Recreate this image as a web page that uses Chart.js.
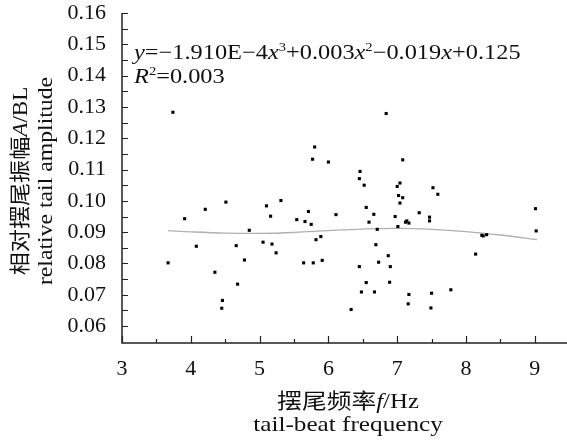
<!DOCTYPE html>
<html>
<head>
<meta charset="utf-8">
<script src="https://cdn.jsdelivr.net/npm/chart.js@4/dist/chart.umd.min.js"></script>
<style>
  html, body { margin: 0; padding: 0; background: #fff; }
  #c { display: block; }
</style>
</head>
<body>
<canvas id="c" width="567" height="443"></canvas>
<script>
// data
var freqX = [3.74, 3.91, 3.67, 4.08, 4.21, 4.35, 4.46, 4.45, 4.51, 4.66, 4.68, 4.78, 4.85, 5.05, 5.10, 5.16, 5.18, 5.24, 5.31, 5.54,
             5.64, 5.66, 5.71, 5.75, 5.78, 5.80, 5.77, 5.82, 5.89, 5.91, 6.00, 6.11, 6.33, 6.46, 6.45, 6.52, 6.55, 6.66, 6.59, 6.71,
             6.69, 6.87, 6.73, 6.45, 6.90, 6.55, 6.89, 6.48, 6.67, 6.84, 7.08, 7.04, 7.00, 7.02, 7.08, 7.04, 6.97, 7.01, 7.12, 7.14,
             7.17, 7.32, 7.47, 7.47, 7.52, 7.59, 7.17, 7.16, 7.50, 7.49, 7.78, 8.14, 8.23, 8.25, 8.30, 9.01, 9.02];
var ampY  = [0.1283, 0.0943, 0.0802, 0.0855, 0.0973, 0.0772, 0.0682, 0.0657, 0.0996, 0.0857, 0.0734, 0.0811, 0.0906, 0.0868, 0.0984, 0.0951, 0.0862, 0.0834, 0.1001, 0.0940,
             0.0802, 0.0934, 0.0966, 0.0925, 0.0802, 0.1172, 0.1133, 0.0876, 0.0886, 0.0810, 0.1124, 0.0956, 0.0653, 0.1094, 0.1071, 0.1050, 0.0979, 0.0957, 0.0932, 0.0909,
             0.0860, 0.0825, 0.0804, 0.0790, 0.0790, 0.0739, 0.0740, 0.0709, 0.0709, 0.1279, 0.1131, 0.1057, 0.1046, 0.1017, 0.1010, 0.0993, 0.0950, 0.0918, 0.0932, 0.0936,
             0.0929, 0.0962, 0.0948, 0.0936, 0.1042, 0.1021, 0.0701, 0.0671, 0.0705, 0.0658, 0.0716, 0.0830, 0.0890, 0.0888, 0.0892, 0.0975, 0.0904];

// fitted curve
var fitX = [3.67, 4.0, 4.5, 5.0, 5.5, 6.0, 6.5, 7.0, 7.5, 8.0, 8.5, 9.03];
var fitY = [0.0905, 0.0901, 0.0897, 0.0896, 0.0899, 0.0905, 0.0910, 0.0912, 0.0909, 0.0902, 0.0891, 0.0876];

var xTicks = [3, 4, 5, 6, 7, 8, 9];
var xMinorTicks = [3.5, 4.5, 5.5, 6.5, 7.5, 8.5];
var yTicks = [0.06, 0.07, 0.08, 0.09, 0.10, 0.11, 0.12, 0.13, 0.14, 0.15, 0.16];
var yMinorTicks = [0.065, 0.075, 0.085, 0.095, 0.105, 0.115, 0.125, 0.135, 0.145, 0.155];

const SERIF = '"Liberation Serif", "Times New Roman", serif';
const CJK = '"Liberation Serif", "Noto Sans CJK SC", serif';

// draw a row of text pieces, some italic / superscript; sx stretches the row sideways
function drawRuns(ctx, runs, x, y, size, align, sx) {
    let total = 0;
    runs.forEach(r => {
        ctx.font = (r.it ? 'italic ' : '') + (r.sup ? size * 0.6 : size) + 'px ' + CJK;
        r.w = ctx.measureText(r.t).width;
        total += r.w;
    });
    ctx.save();
    ctx.translate(x, y);
    ctx.scale(sx, 1);
    let cx = align === 'center' ? -total / 2 : 0;
    runs.forEach(r => {
        ctx.font = (r.it ? 'italic ' : '') + (r.sup ? size * 0.6 : size) + 'px ' + CJK;
        ctx.fillText(r.t, cx, r.sup ? -size * 0.38 : 0);
        cx += r.w;
    });
    ctx.restore();
}

const axesPlugin = {
    id: 'axesPlugin',
    afterDraw(chart) {
        const ctx = chart.ctx;
        const xs = chart.scales.x, ys = chart.scales.y;
        const area = chart.chartArea;
        ctx.save();
        ctx.strokeStyle = '#222';
        ctx.lineWidth = 1.5;
        ctx.beginPath();
        ctx.moveTo(area.left, ys.getPixelForValue(0.16));
        ctx.lineTo(area.left, area.bottom);
        ctx.lineTo(chart.width, area.bottom);
        ctx.stroke();

        ctx.lineWidth = 1.2;
        ctx.beginPath();
        yTicks.concat(yMinorTicks).forEach(v => {
            const py = Math.round(ys.getPixelForValue(v)) + 0.5;
            ctx.moveTo(area.left, py);
            ctx.lineTo(area.left + 6, py);
        });
        xTicks.forEach(v => {
            const px = Math.round(xs.getPixelForValue(v)) + 0.5;
            ctx.moveTo(px, area.bottom);
            ctx.lineTo(px, area.bottom - 7);
        });
        xMinorTicks.forEach(v => {
            const px = Math.round(xs.getPixelForValue(v)) + 0.5;
            ctx.moveTo(px, area.bottom);
            ctx.lineTo(px, area.bottom - 4);
        });
        ctx.stroke();

        ctx.fillStyle = '#111';
        ctx.textBaseline = 'alphabetic';
        // regression equation
        drawRuns(ctx, [
            {t: 'y', it: true}, {t: '=\u22121.910E\u22124'}, {t: 'x', it: true}, {t: '3', sup: true},
            {t: '+0.003'}, {t: 'x', it: true}, {t: '2', sup: true}, {t: '\u22120.019'}, {t: 'x', it: true}, {t: '+0.125'}
        ], 134, 59, 21, 'left', 1.16);
        drawRuns(ctx, [{t: 'R', it: true}, {t: '2', sup: true}, {t: '=0.003'}], 134, 83, 21, 'left', 1.16);

        // x title
        ctx.textBaseline = 'middle';
        drawRuns(ctx, [{t: '摆尾频率'}, {t: 'f', it: true}, {t: '/Hz'}], 348, 402, 21, 'center', 1.18);
        drawRuns(ctx, [{t: 'tail-beat frequency'}], 348, 425, 21, 'center', 1.2);

        // y title
        ctx.save();
        ctx.translate(21, 181);
        ctx.rotate(-Math.PI / 2);
        drawRuns(ctx, [{t: '相对摆尾振幅'}, {t: 'A', it: true}, {t: '/BL'}], 0, 0, 21, 'center', 1.1);
        ctx.restore();
        ctx.save();
        ctx.translate(46, 181);
        ctx.rotate(-Math.PI / 2);
        drawRuns(ctx, [{t: 'relative tail amplitude'}], 0, 0, 21, 'center', 1.13);
        ctx.restore();
        ctx.restore();
    }
};

new Chart(document.getElementById('c'), {
    type: 'scatter',
    data: {
        datasets: [
            {
                label: 'points',
                data: freqX.map((x, i) => ({x: x, y: ampY[i]})),
                pointStyle: 'rect',
                pointRadius: 2.2,
                pointBorderWidth: 0,
                backgroundColor: '#000',
                borderColor: '#000'
            },
            {
                label: 'fit',
                type: 'line',
                data: fitX.map((x, i) => ({x: x, y: fitY[i]})),
                borderColor: '#b0b0b0',
                borderWidth: 1.3,
                pointRadius: 0,
                tension: 0.4,
                fill: false
            }
        ]
    },
    plugins: [axesPlugin],
    options: {
        responsive: false,
        animation: false,
        devicePixelRatio: 1,
        layout: { padding: { left: 0, right: 0, top: 13, bottom: 0 } },
        plugins: { legend: { display: false }, tooltip: { enabled: false } },
        scales: {
            x: {
                type: 'linear',
                min: 3,
                max: 9.41,
                grid: { display: false, drawTicks: false },
                border: { display: false },
                afterBuildTicks: s => { s.ticks = xTicks.map(v => ({value: v})); },
                afterFit: s => { s.height = 100; s.paddingLeft = 0; s.paddingRight = 0; },
                ticks: {
                    padding: 13,
                    color: '#111',
                    font: { family: SERIF, size: 22 },
                    callback: v => String(v)
                }
            },
            y: {
                type: 'linear',
                min: 0.0546,
                max: 0.16,
                grid: { display: false, drawTicks: false },
                border: { display: false },
                afterBuildTicks: s => { s.ticks = yTicks.map(v => ({value: v})); },
                afterFit: s => { s.width = 122; s.paddingTop = 0; s.paddingBottom = 0; },
                ticks: {
                    padding: 16,
                    color: '#111',
                    font: { family: SERIF, size: 22 },
                    callback: v => v.toFixed(2)
                }
            }
        }
    }
});
</script>
</body>
</html>
